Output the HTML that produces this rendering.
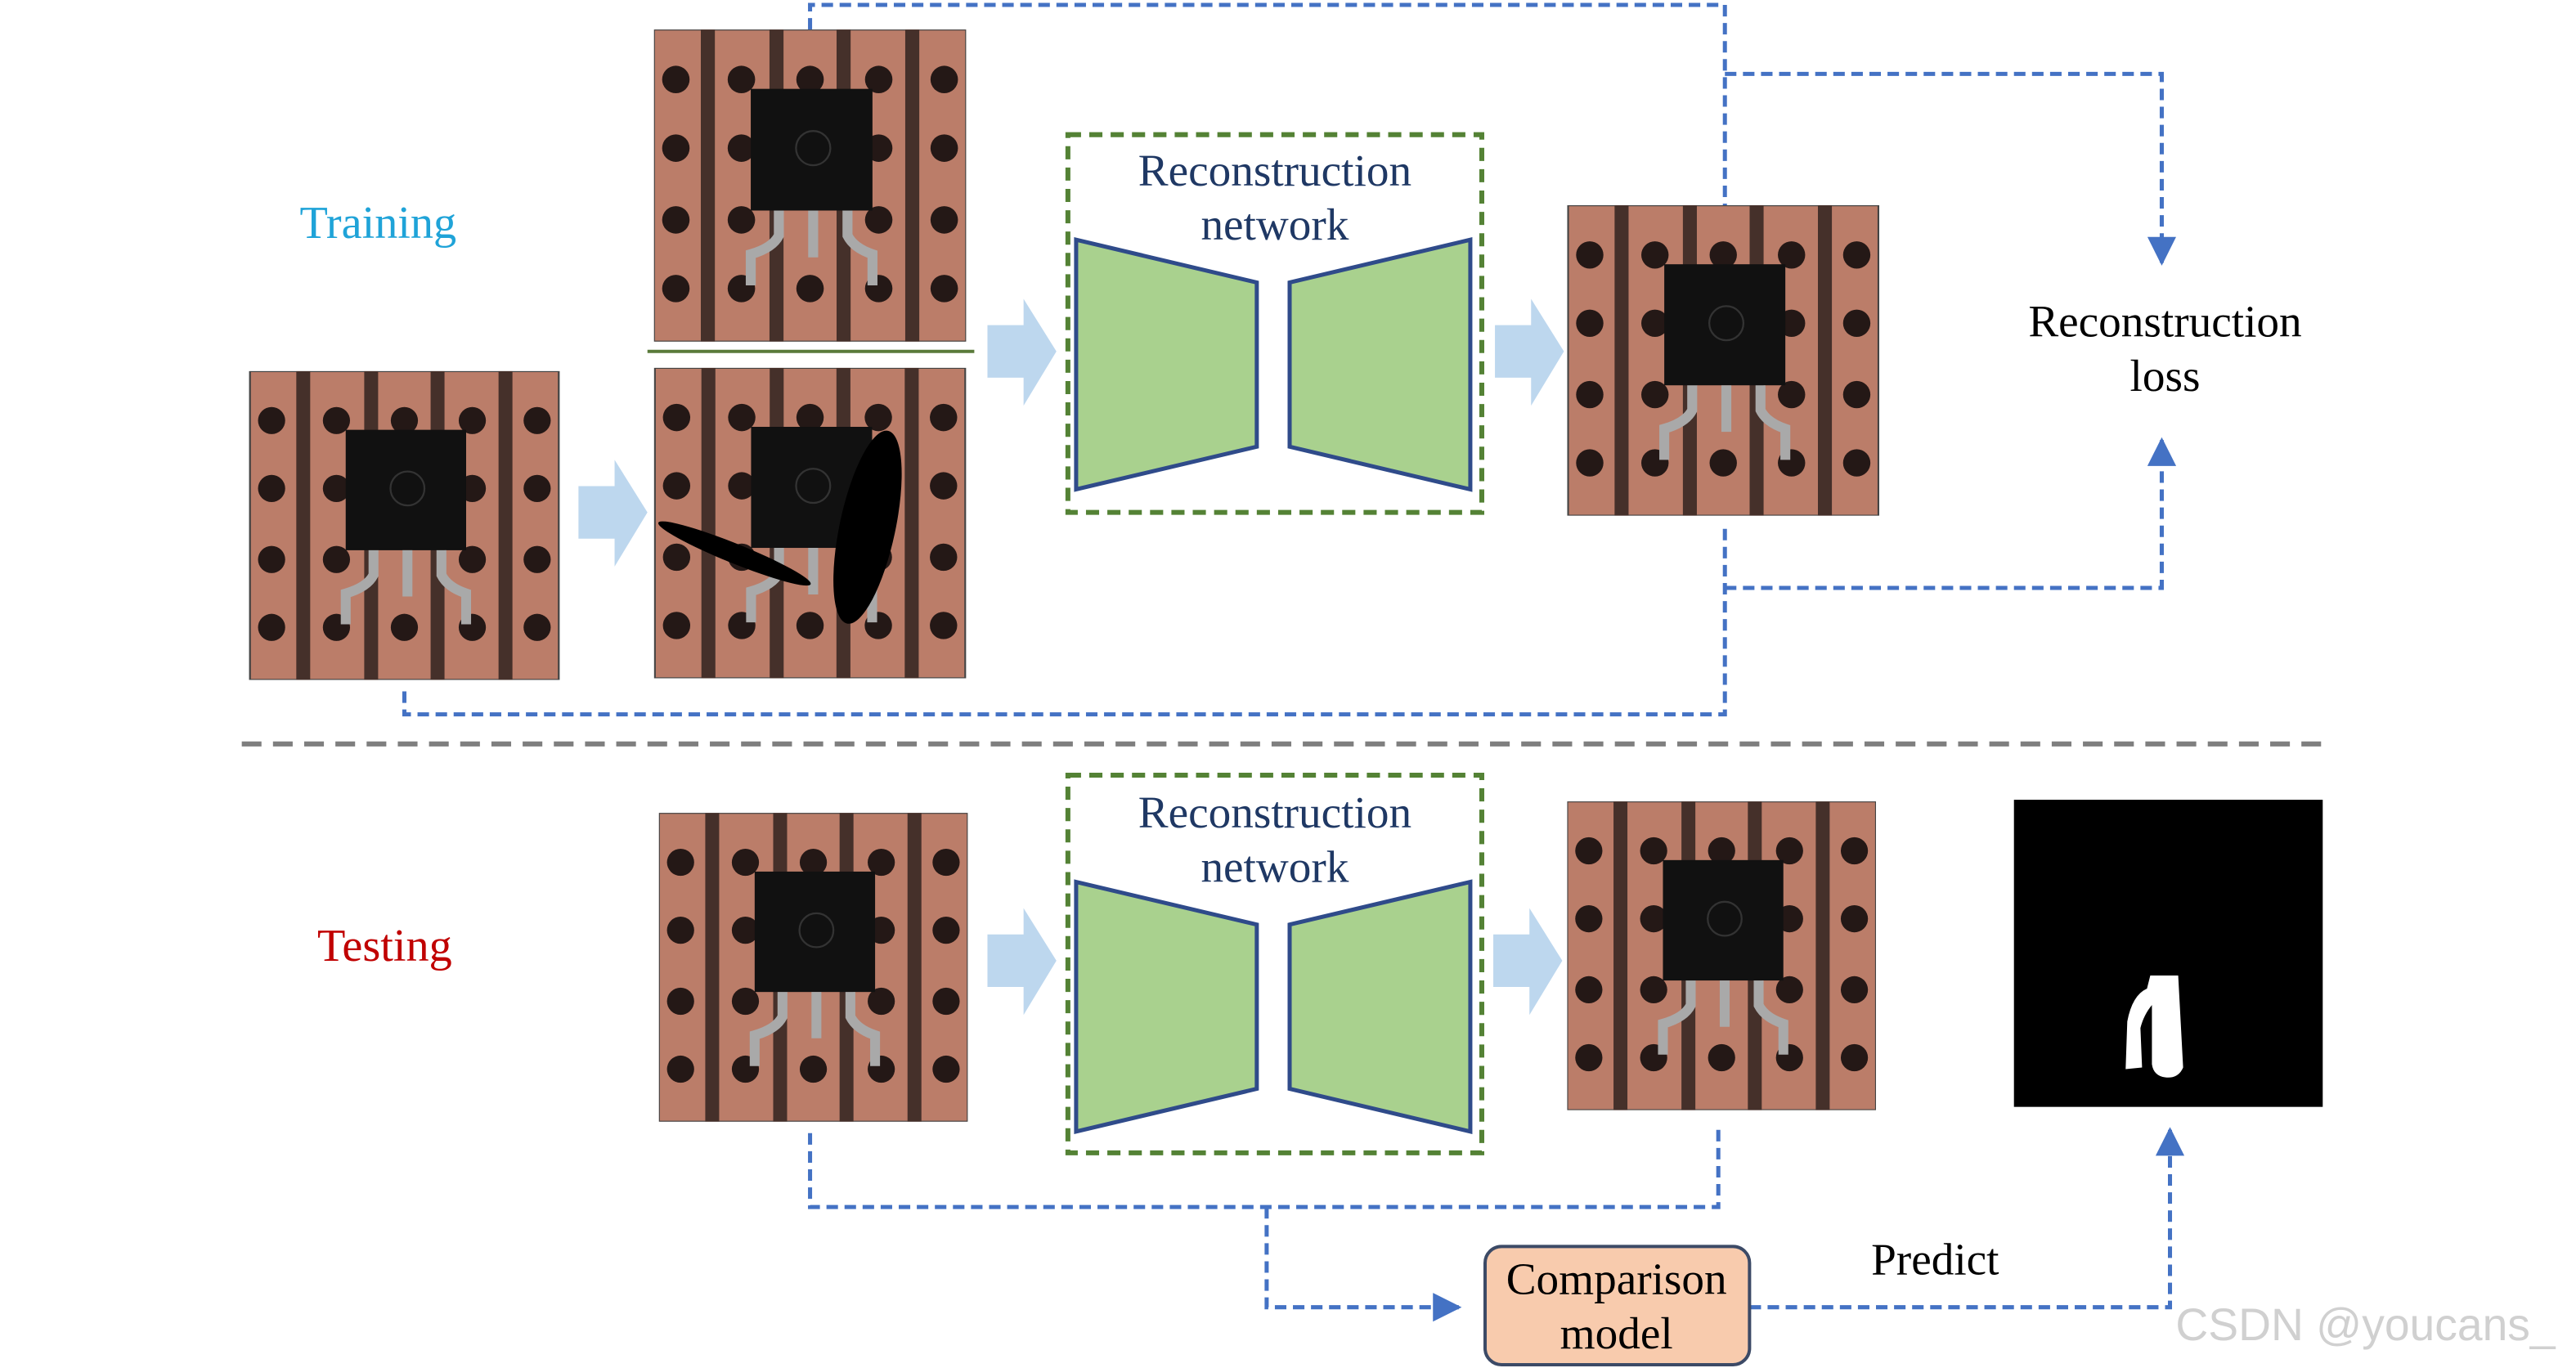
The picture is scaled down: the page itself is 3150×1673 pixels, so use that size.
<!DOCTYPE html>
<html><head><meta charset="utf-8"><style>html,body{margin:0;padding:0;background:#fff}svg{display:block}</style></head>
<body>
<svg width="3150" height="1673" viewBox="0 0 1568 833" xmlns="http://www.w3.org/2000/svg" font-family="'Liberation Serif', serif">
<defs>
<symbol id="pcb" viewBox="0 0 100 100">
<rect width="100" height="100" fill="#bb7d69" stroke="#444" stroke-width="0.6"/>
<g fill="#45302a"><rect x="15" y="0" width="4.5" height="100"/><rect x="37" y="0" width="4.5" height="100"/><rect x="58.5" y="0" width="4.5" height="100"/><rect x="80.5" y="0" width="4.5" height="100"/></g>
<g fill="#241816">
<circle cx="7" cy="16" r="4.4"/><circle cx="28" cy="16" r="4.4"/><circle cx="50" cy="16" r="4.4"/><circle cx="72" cy="16" r="4.4"/><circle cx="93" cy="16" r="4.4"/>
<circle cx="7" cy="38" r="4.4"/><circle cx="28" cy="38" r="4.4"/><circle cx="72" cy="38" r="4.4"/><circle cx="93" cy="38" r="4.4"/>
<circle cx="7" cy="61" r="4.4"/><circle cx="28" cy="61" r="4.4"/><circle cx="72" cy="61" r="4.4"/><circle cx="93" cy="61" r="4.4"/>
<circle cx="7" cy="83" r="4.4"/><circle cx="28" cy="83" r="4.4"/><circle cx="50" cy="83" r="4.4"/><circle cx="72" cy="83" r="4.4"/><circle cx="93" cy="83" r="4.4"/>
</g>
<rect x="31" y="19" width="39" height="39" fill="#111"/>
<circle cx="51" cy="38" r="5.5" fill="none" stroke="#333" stroke-width="0.6"/>
<g stroke="#a9a9a9" stroke-width="3.2" fill="none"><path d="M40 58 V66 Q38 70 31 72 V82"/><path d="M51 58 V73"/><path d="M62 58 V66 Q64 70 70 72 V82"/></g>
</symbol>
<marker id="ah" viewBox="0 0 10 10" refX="9" refY="5" markerWidth="7" markerHeight="7" orient="auto"><path d="M0 0 L10 5 L0 10 z" fill="#4472c4"/></marker>
</defs>
<rect width="1568" height="833" fill="#fff"/>
<text x="230" y="145" font-size="28" fill="#1fa3d8" text-anchor="middle">Training</text>
<text x="234" y="585" font-size="28" fill="#c00000" text-anchor="middle">Testing</text>

<use href="#pcb" x="151" y="226" width="190" height="188"/>
<use href="#pcb" x="398" y="18" width="190" height="190"/>
<line x1="394" y1="214" x2="593" y2="214" stroke="#5a7a3a" stroke-width="2"/>
<use href="#pcb" x="398" y="224" width="190" height="189"/>
<ellipse cx="528" cy="321" rx="17" ry="60" transform="rotate(12 528 321)" fill="#000"/>
<ellipse cx="447" cy="337" rx="50" ry="6" transform="rotate(22 447 337)" fill="#000"/>
<use href="#pcb" x="954" y="125" width="190" height="189"/>
<use href="#pcb" x="401" y="495" width="188" height="188"/>
<use href="#pcb" x="954" y="488" width="188" height="188"/>
<rect x="1226" y="487" width="188" height="187" fill="#000"/>
<path d="M1309 594 L1326 594 L1329 650 Q1326 657 1318 656 Q1311 655 1310 648 L1310 612 Q1305 618 1303 626 L1304 650 L1294 651 L1295 622 Q1298 606 1307 602 Z" fill="#fff"/>

<g fill="#bdd7ee">
<path d="M352 296 H374 V280 L394 312 L374 345 V328 H352 Z"/>
<path d="M601 198 H623 V182 L643 214 L623 247 V230 H601 Z"/>
<path d="M910 198 H932 V182 L952 214 L932 247 V230 H910 Z"/>
<path d="M601 569 H623 V553 L643 585 L623 618 V601 H601 Z"/>
<path d="M909 569 H931 V553 L951 585 L931 618 V601 H909 Z"/>
</g>

<g stroke="#548235" stroke-width="3" stroke-dasharray="8 5" fill="none">
<rect x="650" y="82" width="252" height="230"/>
<rect x="650" y="472" width="252" height="230"/>
</g>
<g fill="#a9d18e" stroke="#2f4b8a" stroke-width="2.5">
<path d="M655 146 L765 172 L765 272 L655 298 Z"/><path d="M785 172 L895 146 L895 298 L785 272 Z"/>
<path d="M655 537 L765 563 L765 663 L655 689 Z"/><path d="M785 563 L895 537 L895 689 L785 663 Z"/>
</g>
<g font-size="27.5" fill="#1f3864" text-anchor="middle">
<text x="776" y="113">Reconstruction</text><text x="776" y="146">network</text>
<text x="776" y="504">Reconstruction</text><text x="776" y="537">network</text>
</g>
<g font-size="27.5" fill="#000" text-anchor="middle">
<text x="1318" y="205">Reconstruction</text><text x="1318" y="238">loss</text>
<text x="1178" y="776">Predict</text>
</g>

<line x1="147" y1="453" x2="1420" y2="453" stroke="#7f7f7f" stroke-width="3" stroke-dasharray="12 7"/>

<g stroke="#4472c4" stroke-width="2.5" stroke-dasharray="7 4" fill="none">
<path d="M493 18 V3 H1050 V125"/>
<path d="M1050 45 H1316 V160" marker-end="url(#ah)"/>
<path d="M1050 322 V435 H246 V420"/>
<path d="M1050 358 H1316 V268" marker-end="url(#ah)"/>
<path d="M493 690 V735 H1046 V686"/>
<path d="M771 735 V796 H888" marker-end="url(#ah)"/>
<path d="M1065 796 H1321 V688" marker-end="url(#ah)"/>
</g>

<rect x="904" y="759" width="161" height="72" rx="10" fill="#f8cbad" stroke="#3c4a66" stroke-width="2"/>
<g font-size="27.5" fill="#000" text-anchor="middle"><text x="984" y="788">Comparison</text><text x="984" y="821">model</text></g>
<text x="1440" y="816" font-family="'Liberation Sans', sans-serif" font-size="27.5" fill="#d0d0d0" text-anchor="middle">CSDN @youcans_</text>
</svg>
</body></html>
